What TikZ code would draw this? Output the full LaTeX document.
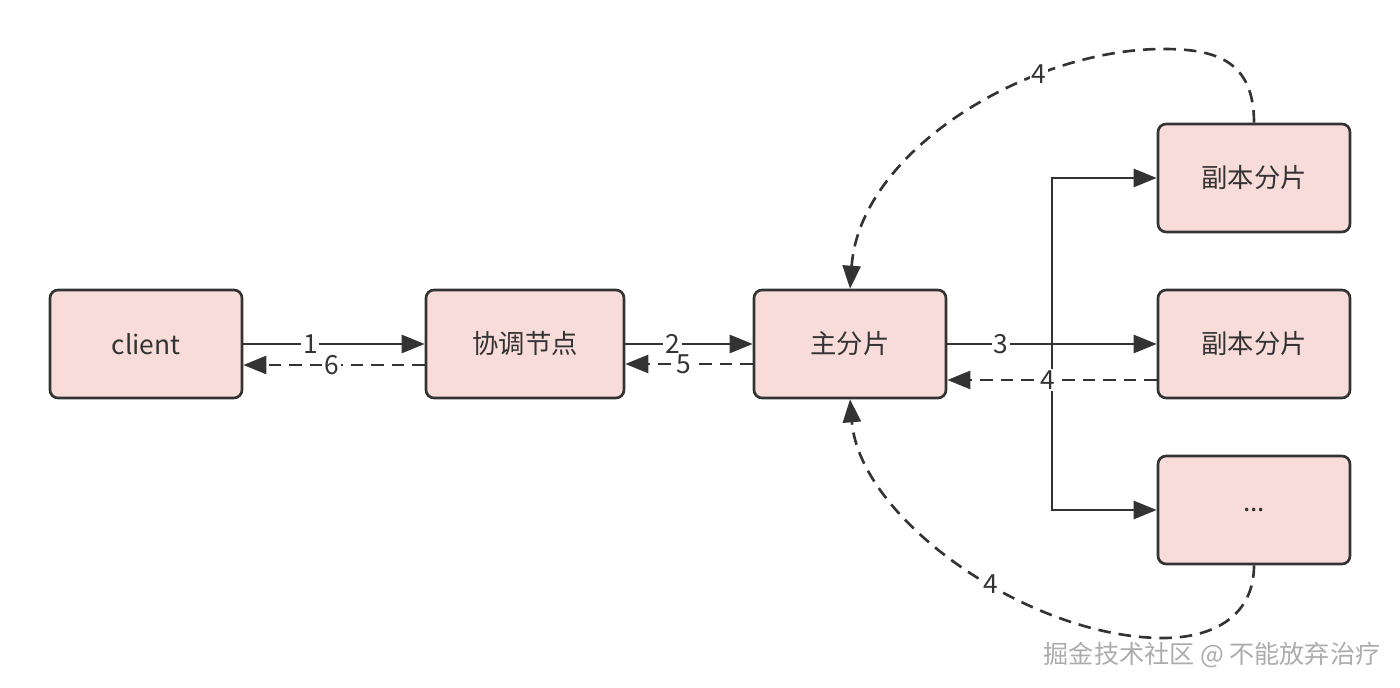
\documentclass[tikz,border=0pt]{standalone}
\usepackage{fontspec}
\setmainfont{Noto Sans CJK SC}
\usetikzlibrary{arrows.meta}
\definecolor{shardpink}{HTML}{F8DCDA}
\definecolor{linegray}{HTML}{333333}

\begin{document}
\begin{tikzpicture}[x=0.02cm,y=-0.02cm,
	box/.style={draw=linegray,fill=shardpink,line width=1.5pt,rounded corners=0.16cm,
		minimum width=3.84cm,minimum height=2.16cm,font=\fontsize{15}{18}\selectfont,text=linegray},
	link/.style={draw=linegray,line width=1.5pt,-{Triangle[length=0.46cm,width=0.36cm]}},
	back/.style={link,dash pattern=on 0.25cm off 0.16cm},
	num/.style={fill=white,inner sep=1pt,font=\fontsize{15}{18}\selectfont,text=linegray}]
	\useasboundingbox (0,0) rectangle (1400,688);
	%BOXES
	\node[box] (client) at (146,344) {client};
	\node[box,minimum width=3.96cm] (coord) at (525,344) {协调节点};
	\node[box] (main) at (850,344) {主分片};
	\node[box] (rep1) at (1254,178) {副本分片};
	\node[box] (rep2) at (1254,344) {副本分片};
	\node[box] (rep3) at (1254,510) {...};
	%REQUESTS
	\draw[link] (client.east) -- (coord.west) node[num,pos=0.37] {1};
	\draw[link] (coord.east) -- (main.west) node[num,pos=0.37] {2};
	\coordinate (split) at (1052,344);
	\draw[link] (split) |- (rep1.west);
	\draw[link] (split) |- (rep3.west);
	\draw[link] (main.east) -- (rep2.west) node[num,pos=0.255] {3};
	%REPLIES
	\draw[back] ([yshift=-0.72cm]rep2.west) -- ([yshift=-0.72cm]main.east) node[num,pos=0.52] {4};
	\draw[back] ([yshift=-0.4cm]main.west) -- ([yshift=-0.4cm]coord.east) node[num,pos=0.54] {5};
	\draw[back] ([yshift=-0.42cm]coord.west) -- ([yshift=-0.42cm]client.east) node[num,pos=0.51] {6};
	\draw[back] (rep1.north) .. controls (1254,60) and (1215,49) .. (1163,49)
		.. controls (1030,49) and (860,150) .. (main.north) node[num,pos=0.3] {4};
	\draw[back] (rep3.south) .. controls (1254,615) and (1215,638) .. (1163,638)
		.. controls (1030,638) and (860,520) .. (main.south) node[num,pos=0.42] {4};
	%WATERMARK
	\node[text=gray!65,font=\fontsize{14.3}{17}\selectfont] (mark) at (1212,655) {掘金技术社区 @ 不能放弃治疗};
\end{tikzpicture}
\end{document}
